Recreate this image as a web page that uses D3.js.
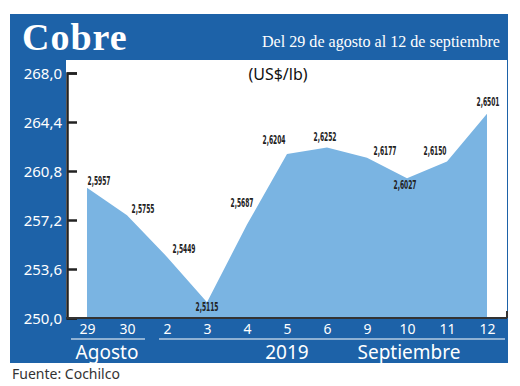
<!DOCTYPE html>
<html>
<head>
<meta charset="utf-8">
<script src="https://cdn.jsdelivr.net/npm/d3@7"></script>
<style>
  body { margin: 0; background: #fff; }
  svg { display: block; }
</style>
</head>
<body>
<div id="chart"></div>
<script>
// copper price, US$/lb (x100 for the axis)
var days = ["29", "30", "2", "3", "4", "5", "6", "9", "10", "11", "12"];
var prices = [259.57, 257.55, 254.49, 251.15, 256.87, 262.04, 262.52, 261.77, 260.27, 261.50, 265.01];
var priceLabels = ["2,5957", "2,5755", "2,5449", "2,5115", "2,5687", "2,6204", "2,6252", "2,6177", "2,6027", "2,6150", "2,6501"];
var yTicks = [250.0, 253.6, 257.2, 260.8, 264.4, 268.0];
var months = ["Agosto", "2019", "Septiembre"];

// label placement around each point (dx, dy)
var labelPos = [[12, -3], [16, -2], [17, -4], [0, 9], [-5, -17], [-13, -10], [-2, -7], [18, -3], [-2, 11], [-12, -6], [1, -8]];

var width = 520, height = 386;
var blue = "#1d62a8";

var svg = d3.select("#chart")
  .append("svg")
  .attr("width", width)
  .attr("height", height);

// blue frame
svg.append("rect")
  .attr("x", 10).attr("y", 14)
  .attr("width", 498).attr("height", 349)
  .attr("fill", blue);

// white plot area
svg.append("rect")
  .attr("x", 66).attr("y", 60)
  .attr("width", 441).attr("height", 258)
  .attr("fill", "#fff");

// title
svg.append("text")
  .attr("x", 22).attr("y", 50)
  .attr("fill", "#fff")
  .attr("font-family", "Liberation Serif, serif")
  .attr("font-weight", "bold")
  .attr("font-size", 38)
  .attr("letter-spacing", 1)
  .text("Cobre");

svg.append("text")
  .attr("x", 500).attr("y", 47)
  .attr("text-anchor", "end")
  .attr("fill", "#fff")
  .attr("font-family", "Liberation Serif, serif")
  .attr("font-size", 17)
  .attr("textLength", 238)
  .attr("lengthAdjust", "spacingAndGlyphs")
  .text("Del 29 de agosto al 12 de septiembre");

// scales
var x = d3.scalePoint()
  .domain(days)
  .range([87, 487]);

var y = d3.scaleLinear()
  .domain([250, 268])
  .range([318, 73]);

// area
var area = d3.area()
  .x(function(d, i) { return x(days[i]); })
  .y0(y(250))
  .y1(function(d) { return y(d); });

svg.append("path")
  .datum(prices)
  .attr("d", area)
  .attr("fill", "#7ab4e2");

// y axis
var yAxis = d3.axisRight(y)
  .tickValues(yTicks)
  .tickSize(10)
  .tickFormat("");

var yg = svg.append("g")
  .attr("transform", "translate(67,0)")
  .call(yAxis);
yg.select(".domain").attr("stroke", "#222").attr("stroke-width", 2.5);
yg.selectAll(".tick line").attr("stroke", "#222").attr("stroke-width", 2.5);

// y tick labels in the blue margin
svg.append("g")
  .selectAll("text")
  .data(yTicks)
  .enter()
  .append("text")
  .attr("x", 62)
  .attr("y", function(d) { return y(d) + 6; })
  .attr("text-anchor", "end")
  .attr("fill", "#fff")
  .attr("font-family", "Noto Sans, sans-serif")
  .attr("font-size", 15)
  .text(function(d) { return d3.format(".1f")(d).replace(".", ","); });

// baseline
svg.append("line")
  .attr("x1", 66).attr("x2", 507)
  .attr("y1", 318).attr("y2", 318)
  .attr("stroke", "#333").attr("stroke-width", 2);
svg.append("line")
  .attr("x1", 507).attr("x2", 507)
  .attr("y1", 318).attr("y2", 311)
  .attr("stroke", "#333").attr("stroke-width", 2);

// unit
svg.append("text")
  .attr("x", 278).attr("y", 80)
  .attr("text-anchor", "middle")
  .attr("fill", "#111")
  .attr("font-family", "Noto Sans, sans-serif")
  .attr("font-size", 16)
  .text("(US$/lb)");

// value labels
svg.append("g")
  .selectAll("text")
  .data(prices)
  .enter()
  .append("text")
  .attr("x", function(d, i) { return x(days[i]) + labelPos[i][0]; })
  .attr("y", function(d, i) { return y(d) + labelPos[i][1]; })
  .attr("text-anchor", "middle")
  .attr("fill", "#222")
  .attr("font-family", "Liberation Sans Narrow, DejaVu Sans Condensed, sans-serif")
  .attr("font-weight", "bold")
  .attr("font-size", 12.5)
  .attr("textLength", 23)
  .attr("lengthAdjust", "spacingAndGlyphs")
  .text(function(d, i) { return priceLabels[i]; });

// day labels
var xAxis = d3.axisBottom(x).tickSize(0).tickPadding(0);
var xg = svg.append("g")
  .attr("transform", "translate(0,320)")
  .call(xAxis);
xg.select(".domain").remove();
xg.selectAll("text")
  .attr("fill", "#fff")
  .attr("font-family", "Noto Sans, sans-serif")
  .attr("font-size", 14)
  .attr("dy", "1em");

// month underlines
svg.append("line")
  .attr("x1", 71).attr("x2", 145)
  .attr("y1", 339).attr("y2", 339)
  .attr("stroke", "#fff").attr("stroke-width", 1.2);
svg.append("line")
  .attr("x1", 159).attr("x2", 505)
  .attr("y1", 339).attr("y2", 339)
  .attr("stroke", "#fff").attr("stroke-width", 1.2);

// month / year labels
var monthX = [(x("29") + x("30")) / 2, x("5"), (x("9") + x("11")) / 2 + 2];
svg.append("g")
  .selectAll("text")
  .data(months)
  .enter()
  .append("text")
  .attr("x", function(d, i) { return monthX[i]; })
  .attr("y", 359)
  .attr("text-anchor", "middle")
  .attr("fill", "#fff")
  .attr("font-family", "Noto Sans, sans-serif")
  .attr("font-size", 19)
  .text(function(d) { return d; });

// source
svg.append("text")
  .attr("x", 12).attr("y", 379)
  .attr("fill", "#333")
  .attr("font-family", "Noto Sans, sans-serif")
  .attr("font-size", 14)
  .text("Fuente: Cochilco");
</script>
</body>
</html>
